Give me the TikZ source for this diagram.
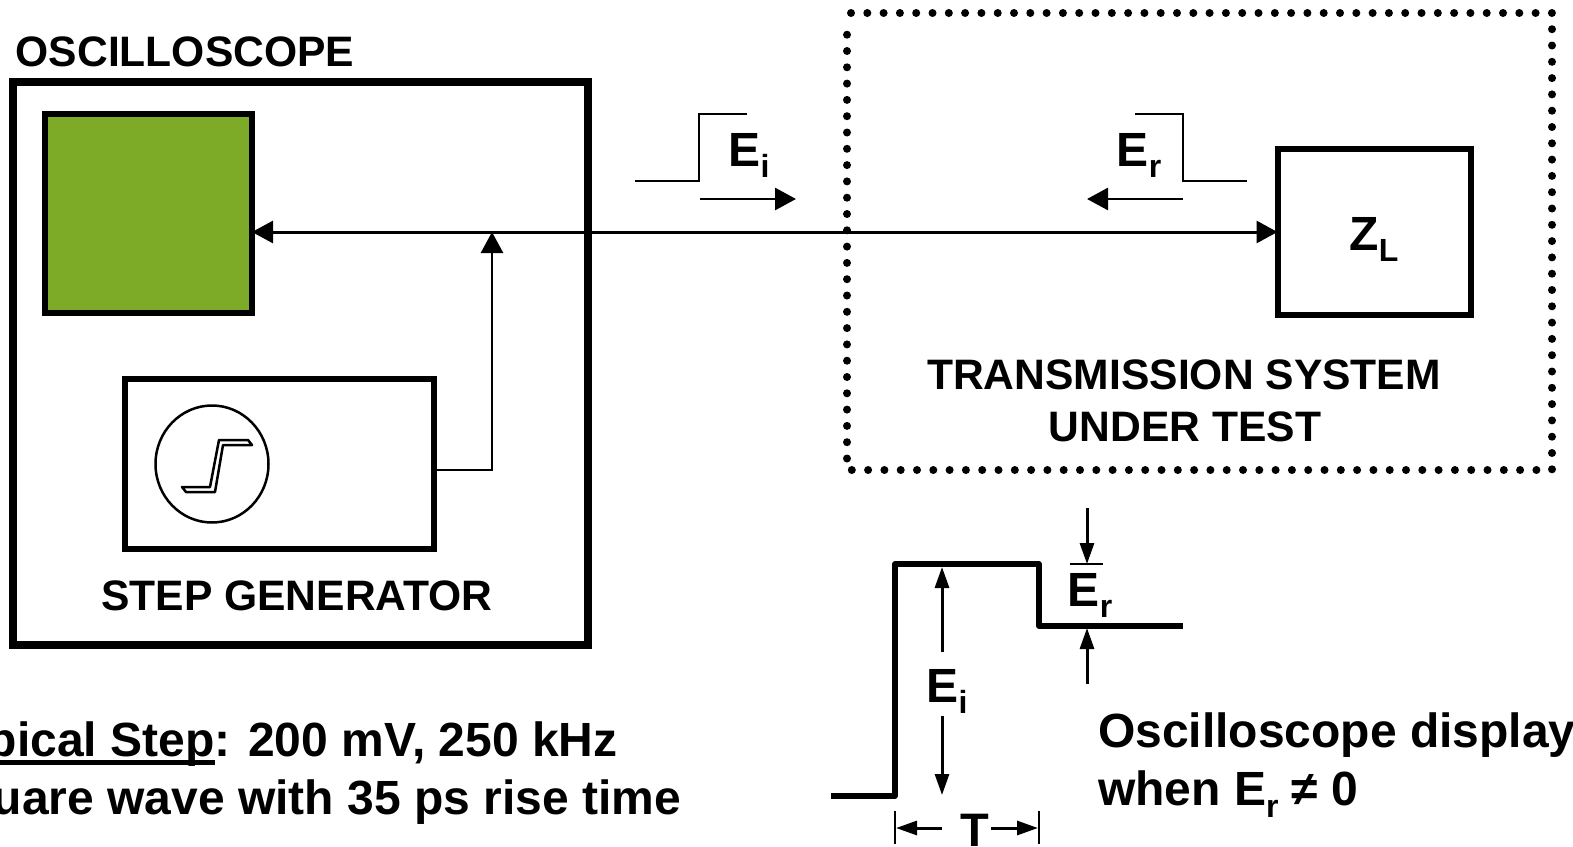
\documentclass[tikz,border=0pt]{standalone}
\usepackage{fontspec}
\setmainfont{Liberation Sans}
\usetikzlibrary{arrows.meta, shapes.geometric}
\definecolor{screengreen}{HTML}{7DAB27}
\newcommand{\headtxt}{\fontsize{42.6}{52}\bfseries\selectfont}
\newcommand{\bigtxt}{\fontsize{48}{58}\bfseries\selectfont}
\newcommand{\subtxt}[1]{\raisebox{-.24em}{\fontsize{32}{32}\bfseries\selectfont #1}}
\newsavebox{\ulbox}
\newcommand{\fatul}[1]{\sbox{\ulbox}{#1}\rlap{\usebox{\ulbox}}\rule[-8pt]{\wd\ulbox}{5pt}}
\begin{document}
\begin{tikzpicture}[x=1pt, y=-1pt, text=black, >={Triangle[length=21pt, width=22pt]}]
    \tikzstyle{every node}=[inner sep=0pt, outer sep=0pt];
    \tikzstyle{thick box}=[draw, rectangle, line width=6pt];
    \tikzstyle{thin line}=[line width=2.8pt];
    \tikzstyle{wave line}=[line width=5.5pt];
    \tikzstyle{dim line}=[line width=3pt, >={Triangle[length=21pt, width=14pt]}];
    \tikzstyle{caption}=[font=\headtxt, anchor=base];
    \tikzstyle{symbol}=[font=\bigtxt, anchor=base];
    \useasboundingbox (0,0) rectangle (1573,846);

    % boxes
    \node at (300, 363) (scope) [thick box, line width=8pt, minimum width=575pt, minimum height=563pt] {};
    \node at (148.5, 213.5) (screen) [thick box, fill=screengreen, minimum width=207pt, minimum height=199pt] {};
    \node at (279, 464) (stepgen) [thick box, minimum width=309pt, minimum height=170pt] {};
    \node at (1374, 232) (zload) [thick box, minimum width=193pt, minimum height=166pt] {};
    \node at (212, 464) (stepface) [draw, ellipse, line width=2.5pt, minimum width=113pt, minimum height=117pt] {};

    % system under test
    \draw[line width=8pt, line cap=round, dash pattern=on 0pt off 16.3pt]
        (851, 13) -- (1552, 13) -- (1552, 470) -- (847, 470) -- (847, 22);

    % step symbol in the generator
    \draw[line width=2.5pt, line join=round]
        (182, 487) -- (210, 487) -- (219, 440) -- (248, 440) -- (252, 445)
        -- (223, 445) -- (215, 492) -- (186, 492) -- cycle;

    % main line
    \node at (436, 470) (genout) {};
    \node at (492, 470) (genbend) {};
    \node at (492, 232) (gentap) {};
    \draw[line width=3pt, <->] (screen.east |- zload.west) -- (zload.west);
    \draw[thin line, ->] (genout.center) -- (genbend.center) -- (gentap.center);

    % incident pulse
    \node at (635, 181) (ei1) {};
    \node at (699, 181) (ei2) {};
    \node at (699, 114) (ei3) {};
    \node at (747, 114) (ei4) {};
    \node at (700, 199) (eis) {};
    \node at (796, 199) (eie) {};
    \draw[thin line] (ei1.center) -- (ei2.center) -- (ei3.center) -- (ei4.center);
    \draw[thin line, ->] (eis.center) -- (eie.center);

    % reflected pulse
    \node at (1247, 181) (er1) {};
    \node at (1183, 181) (er2) {};
    \node at (1183, 114) (er3) {};
    \node at (1135, 114) (er4) {};
    \node at (1183, 199) (ers) {};
    \node at (1087, 199) (ere) {};
    \draw[thin line] (er1.center) -- (er2.center) -- (er3.center) -- (er4.center);
    \draw[thin line, ->] (ers.center) -- (ere.center);

    % display trace
    \node at (831, 796) (w1) {};
    \node at (895, 796) (w2) {};
    \node at (895, 564) (w3) {};
    \node at (1039, 564) (w4) {};
    \node at (1039, 626) (w5) {};
    \node at (1183, 626) (w6) {};
    \draw[wave line, line join=round] (w1.center) -- (w2.center) -- (w3.center)
        -- (w4.center) -- (w5.center) -- (w6.center);

    % display dimensions
    \node at (942, 652) (eitop) {};
    \node at (942, 567) (eitip) {};
    \node at (942, 716) (eibot) {};
    \node at (942, 795) (eiend) {};
    \draw[dim line, ->] (eitop.center) -- (eitip.center);
    \draw[dim line, ->] (eibot.center) -- (eiend.center);
    \node at (1087, 508) (eras) {};
    \node at (1087, 564) (erae) {};
    \node at (1087, 684) (erbs) {};
    \node at (1087, 628) (erbe) {};
    \node at (1070, 564) (erl1) {};
    \node at (1103, 564) (erl2) {};
    \draw[dim line, ->] (eras.center) -- (erae.center);
    \draw[dim line, ->] (erbs.center) -- (erbe.center);
    \draw[line width=1.2pt] (erl1.center) -- (erl2.center);
    \node at (895, 811) (ta) {};
    \node at (895, 844) (tb) {};
    \node at (1039, 811) (tc) {};
    \node at (1039, 844) (td) {};
    \node at (942, 828) (tls) {};
    \node at (896, 828) (tle) {};
    \node at (991, 828) (trs) {};
    \node at (1038, 828) (tre) {};
    \draw[line width=1.2pt] (ta.center) -- (tb.center);
    \draw[line width=1.2pt] (tc.center) -- (td.center);
    \draw[dim line, ->] (tls.center) -- (tle.center);
    \draw[dim line, ->] (trs.center) -- (tre.center);

    % labels
    \node at (185, 66) (scopelab) [caption] {OSCILLOSCOPE};
    \node at (297, 610) (genlab) [caption] {STEP GENERATOR};
    \node at (1184, 389) (sutlab1) [caption] {TRANSMISSION SYSTEM};
    \node at (1185, 441) (sutlab2) [caption] {UNDER TEST};
    \node at (1374, 250) (zlab) [symbol] {Z\subtxt{L}};
    \node at (749, 166) (eilab) [symbol] {E\subtxt{i}};
    \node at (1139, 166) (erlab) [symbol] {E\subtxt{r}};
    \node at (1090, 606) (erdisp) [symbol] {E\subtxt{r}};
    \node at (947, 702) (eidisp) [symbol] {E\subtxt{i}};
    \node at (975, 846) (tlab) [symbol, font=\fontsize{47}{47}\bfseries\selectfont] {T};
    \node at (681, 722) (steplab) [font=\bigtxt, anchor=north east, align=left]
        {\hspace{4pt}\fatul{Typical Step}: 200 mV, 250 kHz\\Square wave with 35 ps rise time};
    \node at (1098, 713) (disp) [font=\bigtxt, anchor=north west, align=left]
        {Oscilloscope display\\when E\subtxt{r} ≠ 0};
\end{tikzpicture}
\end{document}
